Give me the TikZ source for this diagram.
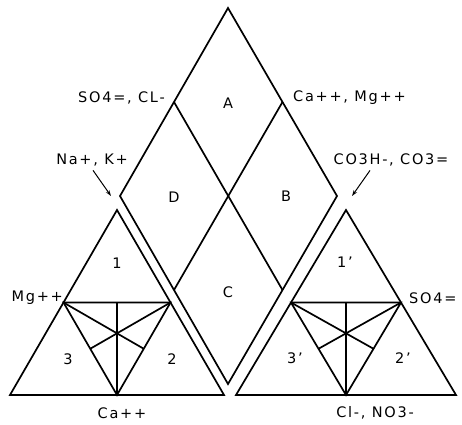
\documentclass[tikz,border=0pt]{standalone}
\usepackage{fontspec}
\setmainfont{DejaVu Sans}[LetterSpace=12]
\usetikzlibrary{arrows.meta, calc}
\tikzset{
  edge/.style={line width=1.7pt, line join=miter},
  lbl/.style={font=\fontsize{14.5}{16}\selectfont, inner sep=1pt},
  arr/.style={-{Stealth[length=6pt, width=4pt]}, line width=1pt}
}

\begin{document}
\begin{tikzpicture}[x=1pt, y=-1pt]
\useasboundingbox (0,0) rectangle (462,424);

% central rhomb
\coordinate (top) at (228,8);
\coordinate (lft) at (120,196);
\coordinate (rgt) at (337,196);
\coordinate (bot) at (228,384);
\draw[edge] (top) -- (rgt) -- (bot) -- (lft) -- cycle;
\draw[edge] ($(top)!0.5!(lft)$) -- ($(rgt)!0.5!(bot)$);
\draw[edge] ($(top)!0.5!(rgt)$) -- ($(lft)!0.5!(bot)$);

% cation and anion triangles
\foreach \t/\ax/\lx/\rx in {cat/117/10/224, ani/346/236/456} {
  \coordinate (\t1) at (\ax,210);
  \coordinate (\t2) at (\lx,395);
  \coordinate (\t3) at (\rx,395);
  \coordinate (\t12) at ($(\t1)!0.5!(\t2)$);
  \coordinate (\t13) at ($(\t1)!0.5!(\t3)$);
  \coordinate (\t23) at ($(\t2)!0.5!(\t3)$);
  \draw[edge] (\t1) -- (\t2) -- (\t3) -- cycle;
  \draw[edge] (\t12) -- (\t13) -- (\t23) -- cycle;
  \draw[edge] (\t12) -- ($(\t13)!0.5!(\t23)$);
  \draw[edge] (\t13) -- ($(\t12)!0.5!(\t23)$);
  \draw[edge] (\t23) -- ($(\t12)!0.5!(\t13)$);
}

% field letters
\node[lbl] (A) at (228,103) {A};
\node[lbl] (D) at (174,197) {D};
\node[lbl] (B) at (286,196) {B};
\node[lbl] (C) at (228,292) {C};
\node[lbl] (c1) at (117,263) {1};
\node[lbl] (c3) at (68,359) {3};
\node[lbl] (c2) at (172,359) {2};
\node[lbl] (a1) at (345,262) {1'};
\node[lbl] (a3) at (295,358) {3'};
\node[lbl] (a2) at (403,358) {2'};

% ion labels
\node[lbl, anchor=east] (so4cl) at (166,98) {SO4=, CL-};
\node[lbl, anchor=west] (camg) at (292,98) {Ca++, Mg++};
\node[lbl] (nak) at (92,160) {Na+, K+};
\node[lbl] (co3) at (391,160) {CO3H-, CO3=};
\node[lbl, anchor=east] (mg) at (64,298) {Mg++};
\node[lbl, anchor=west] (so4) at (408,298) {SO4=};
\node[lbl] (ca) at (122,413) {Ca++};
\node[lbl] (clno3) at (375,413) {Cl-, NO3-};

\coordinate (naktip) at (111,196);
\coordinate (co3tip) at (352,196);
\draw[arr] ($(nak.south)+(1,3)$) -- (naktip);
\draw[arr] ($(co3.south)+(-21,3)$) -- (co3tip);
\end{tikzpicture}
\end{document}
